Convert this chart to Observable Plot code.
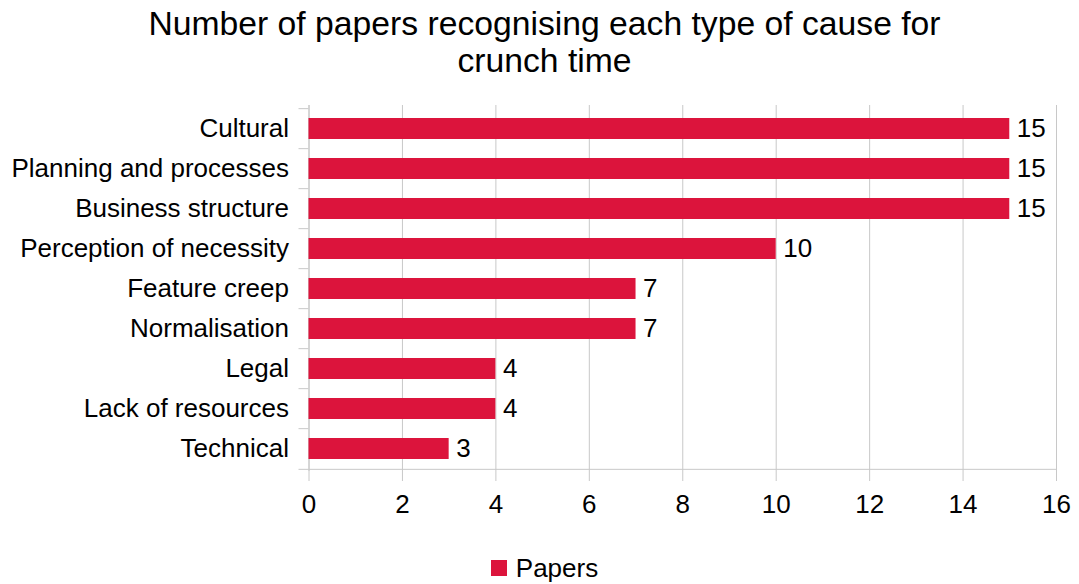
<!DOCTYPE html>
<html>
<head>
<meta charset="utf-8">
<script src="https://cdn.jsdelivr.net/npm/d3@7"></script>
<script src="https://cdn.jsdelivr.net/npm/@observablehq/plot@0.6"></script>
<style>
  html, body { margin: 0; padding: 0; background: #fff; }
  body { position: relative; width: 1079px; height: 584px; overflow: hidden; font-family: "Liberation Sans", Arial, sans-serif; color: #000; }
  #title { position: absolute; left: 0; top: 0; width: 1079px; height: 85px; text-align: center; font-size: 33.7px; line-height: 37px; padding-top: 5px; box-sizing: border-box; padding-left: 10px; }
  #chart { position: absolute; left: 0; top: 85px; }
  #legend { position: absolute; left: 0; top: 553px; width: 1079px; height: 30px; display: flex; justify-content: center; align-items: center; font-size: 26px; padding-left: 10px; box-sizing: border-box; }
  #legend .sw { width: 16px; height: 16px; background: #DC143C; margin-right: 9px; }
</style>
</head>
<body>
<div id="title">Number of papers recognising each type of cause for<br>crunch time</div>
<div id="chart"></div>
<div id="legend"><span class="sw"></span><span>Papers</span></div>
<script>
const categories = ["Cultural", "Planning and processes", "Business structure", "Perception of necessity", "Feature creep", "Normalisation", "Legal", "Lack of resources", "Technical"];
const papers = [15, 15, 15, 10, 7, 7, 4, 4, 3];
const xTicks = [0, 2, 4, 6, 8, 10, 12, 14, 16];
const seriesName = "Papers";
const barColor = "#DC143C";
const gridColor = "#c8c8c8";

const data = categories.map((c, i) => ({cat: c, value: papers[i]}));

const marginTop = 20, marginBottom = 64, plotH = 366;
const step = plotH / categories.length;
const tickLen = 10 / ((1056 - 308.5) / 16); // 10px in x units

const chart = Plot.plot({
  width: 1079,
  height: marginTop + plotH + marginBottom,
  marginLeft: 308.5,
  marginRight: 23,
  marginTop,
  marginBottom,
  style: {fontFamily: "Liberation Sans, Arial, sans-serif", fontSize: "26px", color: "#000", background: "#fff"},
  x: {domain: [0, 16], ticks: xTicks},
  y: {domain: categories, paddingInner: 0.48, paddingOuter: 0.24},
  marks: [
    Plot.gridX(xTicks, {stroke: gridColor, strokeOpacity: 1}),
    Plot.axisX(xTicks, {tickSize: 10, tickPadding: 13, stroke: gridColor, strokeOpacity: 1, fill: "#000", fontSize: 26, label: null}),
    Plot.axisY({tickSize: 0, tickPadding: 20, fill: "#000", fontSize: 26, label: null}),
    Plot.ruleY(categories, {y: d => d, dy: -step / 2, x1: -tickLen, x2: 0, stroke: gridColor}),
    Plot.ruleY([categories[categories.length - 1]], {y: d => d, dy: step / 2, x1: -tickLen, x2: 16, stroke: gridColor}),
    Plot.ruleX([0], {stroke: gridColor}),
    Plot.barX(data, {x: "value", y: "cat", fill: barColor, title: d => `${seriesName}: ${d.value}`}),
    Plot.text(data, {x: "value", y: "cat", text: d => String(d.value), dx: 7, textAnchor: "start", fontSize: 26, fill: "#000"})
  ]
});
document.getElementById("chart").appendChild(chart);
</script>
</body>
</html>
